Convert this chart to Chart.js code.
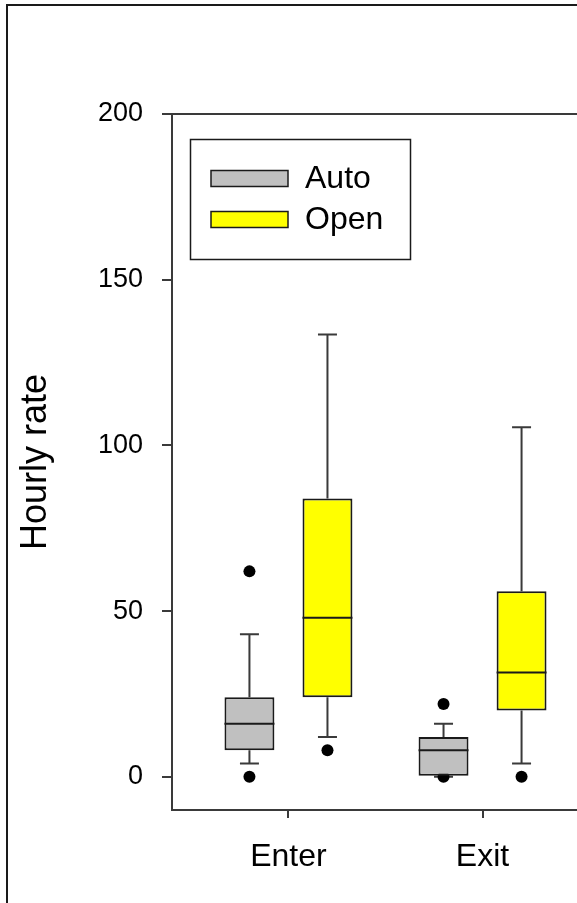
<!DOCTYPE html>
<html>
<head>
<meta charset="utf-8">
<script src="https://cdn.jsdelivr.net/npm/chart.js@4.4.0/dist/chart.umd.min.js"></script>
<style>
    html, body { margin: 0; padding: 0; background: #fff; overflow: hidden; }
    #wrap { position: relative; width: 620px; height: 903px; }
</style>
</head>
<body>
<div id="wrap"><canvas id="chart" width="620" height="903"></canvas></div>
<script>
// categories and series
const categories = ['Enter', 'Exit'];
const seriesNames = ['Auto', 'Open'];
const seriesColors = ['#c0c0c0', '#ffff00'];

// box statistics, one entry per category
const autoMin = [4, 0];
const autoQ1 = [8, 0];
const autoMedian = [16, 8];
const autoQ3 = [24, 12];
const autoMax = [43, 16];
const autoOutliers = [[0, 62], [0, 22]];

const openMin = [12, 4];
const openQ1 = [24, 20];
const openMedian = [48, 31.5];
const openQ3 = [84, 56];
const openMax = [133.5, 105.5];
const openOutliers = [[8], [0]];

const yTicks = [0, 50, 100, 150, 200];

const FONT = "'Liberation Sans', Arial, sans-serif";
const AXIS_COLOR = '#3a3a3a';

function makeBoxDataset(label, color, q1, q3, min, median, max, outliers) {
    return {
        label: label,
        data: categories.map((c, i) => ({ x: i + 1, y: [q1[i], q3[i]] })),
        backgroundColor: color,
        borderColor: '#1a1a1a',
        borderWidth: 2,
        borderSkipped: false,
        categoryPercentage: 0.804,
        barPercentage: 0.64,
        stats: { min: min, median: median, max: max, outliers: outliers }
    };
}

// whiskers + outliers behind the boxes, medians on top
const boxPlotPlugin = {
    id: 'boxPlot',
    beforeDatasetsDraw(chart) {
        const ctx = chart.ctx;
        const y = chart.scales.y;
        chart.data.datasets.forEach((ds, d) => {
            const meta = chart.getDatasetMeta(d);
            meta.data.forEach((bar, i) => {
                const s = ds.stats;
                const x = bar.x;
                const capHalf = 9.5;
                const top = ds.data[i].y[1];
                const bottom = ds.data[i].y[0];
                ctx.save();
                ctx.strokeStyle = AXIS_COLOR;
                ctx.lineWidth = 2;
                ctx.beginPath();
                // upper whisker
                ctx.moveTo(x, y.getPixelForValue(top));
                ctx.lineTo(x, y.getPixelForValue(s.max[i]));
                ctx.moveTo(x - capHalf, y.getPixelForValue(s.max[i]));
                ctx.lineTo(x + capHalf, y.getPixelForValue(s.max[i]));
                // lower whisker
                ctx.moveTo(x, y.getPixelForValue(bottom));
                ctx.lineTo(x, y.getPixelForValue(s.min[i]));
                ctx.moveTo(x - capHalf, y.getPixelForValue(s.min[i]));
                ctx.lineTo(x + capHalf, y.getPixelForValue(s.min[i]));
                ctx.stroke();
                // outliers
                ctx.fillStyle = '#000';
                s.outliers[i].forEach(v => {
                    ctx.beginPath();
                    ctx.arc(x, y.getPixelForValue(v), 6, 0, Math.PI * 2);
                    ctx.fill();
                });
                ctx.restore();
            });
        });
    },
    afterDatasetsDraw(chart) {
        const ctx = chart.ctx;
        const y = chart.scales.y;
        chart.data.datasets.forEach((ds, d) => {
            const meta = chart.getDatasetMeta(d);
            meta.data.forEach((bar, i) => {
                const py = y.getPixelForValue(ds.stats.median[i]);
                ctx.save();
                ctx.strokeStyle = '#1a1a1a';
                ctx.lineWidth = 2;
                ctx.beginPath();
                ctx.moveTo(bar.x - bar.width / 2, py);
                ctx.lineTo(bar.x + bar.width / 2, py);
                ctx.stroke();
                ctx.restore();
            });
        });
    }
};

// outer frame, top border of plot, legend box
const framePlugin = {
    id: 'frame',
    beforeDraw(chart) {
        const ctx = chart.ctx;
        ctx.save();
        ctx.fillStyle = '#fff';
        ctx.fillRect(0, 0, chart.width, chart.height);
        ctx.strokeStyle = '#1a1a1a';
        ctx.lineWidth = 2;
        ctx.strokeRect(7, 5, 2000, 2000);
        ctx.restore();
    },
    afterDraw(chart) {
        const ctx = chart.ctx;
        const area = chart.chartArea;
        ctx.save();
        ctx.strokeStyle = AXIS_COLOR;
        ctx.lineWidth = 2;
        ctx.beginPath();
        ctx.moveTo(area.left, area.top);
        ctx.lineTo(area.right, area.top);
        ctx.stroke();

        // legend
        ctx.strokeStyle = '#1a1a1a';
        ctx.lineWidth = 1.5;
        ctx.strokeRect(190.5, 139.5, 220, 120);
        chart.data.datasets.forEach((ds, i) => {
            const cy = 178.5 + i * 41;
            ctx.fillStyle = ds.backgroundColor;
            ctx.fillRect(211, cy - 8, 77, 16);
            ctx.strokeRect(211, cy - 8, 77, 16);
            ctx.fillStyle = '#000';
            ctx.font = '32px ' + FONT;
            ctx.textBaseline = 'middle';
            ctx.textAlign = 'left';
            ctx.fillText(ds.label, 305, cy + 1);
        });
        ctx.restore();
    }
};

const chart = new Chart(document.getElementById('chart').getContext('2d'), {
    type: 'bar',
    data: {
        datasets: [
            makeBoxDataset(seriesNames[0], seriesColors[0], autoQ1, autoQ3, autoMin, autoMedian, autoMax, autoOutliers),
            makeBoxDataset(seriesNames[1], seriesColors[1], openQ1, openQ3, openMin, openMedian, openMax, openOutliers)
        ]
    },
    options: {
        responsive: false,
        animation: false,
        layout: { padding: { top: 114, right: 21, left: 0, bottom: 0 } },
        plugins: {
            legend: { display: false },
            tooltip: { enabled: false }
        },
        scales: {
            x: {
                type: 'linear',
                min: 0.4,
                max: 2.6,
                offset: false,
                afterBuildTicks: (scale) => {
                    scale.ticks = categories.map((c, i) => ({ value: i + 1 }));
                },
                afterFit: (scale) => { scale.height = 93; },
                ticks: {
                    callback: (value) => categories[value - 1],
                    font: { family: FONT, size: 32 },
                    color: '#000',
                    padding: 20,
                    maxRotation: 0
                },
                grid: { offset: false, drawOnChartArea: false, drawTicks: true, tickLength: 8, color: AXIS_COLOR, lineWidth: 2 },
                border: { color: AXIS_COLOR, width: 2 }
            },
            y: {
                min: -10,
                max: 200,
                afterBuildTicks: (scale) => {
                    scale.ticks = yTicks.map(v => ({ value: v }));
                },
                afterFit: (scale) => { scale.width = 172; },
                ticks: {
                    font: { family: FONT, size: 27 },
                    color: '#000',
                    padding: 19
                },
                grid: { drawOnChartArea: false, drawTicks: true, tickLength: 10, color: AXIS_COLOR, lineWidth: 2 },
                border: { color: AXIS_COLOR, width: 2 },
                title: {
                    display: true,
                    text: 'Hourly rate',
                    font: { family: FONT, size: 36 },
                    color: '#000',
                    padding: { top: 14, bottom: 0 }
                }
            }
        }
    },
    plugins: [boxPlotPlugin, framePlugin]
});
</script>
</body>
</html>
